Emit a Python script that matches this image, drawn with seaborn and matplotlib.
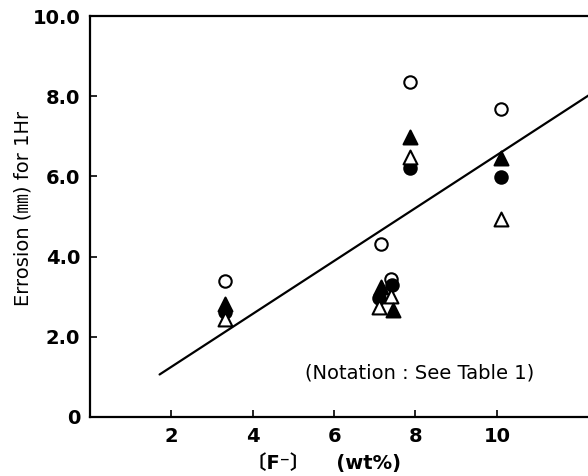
import matplotlib
matplotlib.use("Agg")
import matplotlib.pyplot as plt
import seaborn as sns
import pandas as pd

# values
open_circle_x = [3.33, 7.15, 7.40, 7.87, 10.1]
open_circle_y = [3.38, 4.32, 3.45, 8.36, 7.67]
filled_circle_x = [3.33, 7.10, 7.42, 7.87, 10.1]
filled_circle_y = [2.63, 2.98, 3.28, 6.20, 5.98]
filled_tri_x = [3.33, 7.15, 7.45, 7.87, 10.1]
filled_tri_y = [2.82, 3.25, 2.68, 6.98, 6.47]
open_tri_x = [3.33, 7.10, 7.40, 7.87, 10.1]
open_tri_y = [2.45, 2.75, 3.02, 6.48, 4.93]

fit_x = [1.71, 12.3]
fit_y = [1.06, 8.05]

y_ticks = [0, 2, 4, 6, 8, 10]
y_tick_labels = ["0", "2.0", "4.0", "6.0", "8.0", "10.0"]
x_ticks = [2, 4, 6, 8, 10]
x_tick_labels = ["2", "4", "6", "8", "10"]

sns.set_style("ticks")
plt.rcParams['font.family'] = ['DejaVu Sans', 'Noto Sans CJK JP']
plt.rcParams.update({
    "text.color": "black",
    "axes.labelcolor": "black",
    "axes.edgecolor": "black",
    "xtick.color": "black",
    "ytick.color": "black",
})

fig = plt.figure(figsize=(5.88, 4.76), dpi=100)
ax = fig.add_axes([90 / 588, 59 / 476, 1 - 90 / 588, 401 / 476])

series = [
    (open_circle_x, open_circle_y, "o", "white", 80),
    (filled_circle_x, filled_circle_y, "o", "black", 80),
    (open_tri_x, open_tri_y, "^", "white", 100),
    (filled_tri_x, filled_tri_y, "^", "black", 100),
]
for xs, ys, mk, fc, size in series:
    df = pd.DataFrame({"x": xs, "y": ys})
    sns.scatterplot(data=df, x="x", y="y", marker=mk, s=size, color=fc,
                    edgecolor="black", linewidth=1.5, ax=ax, zorder=3)

fit = pd.DataFrame({"x": fit_x, "y": fit_y})
sns.lineplot(data=fit, x="x", y="y", color="black", linewidth=1.6, ax=ax, zorder=2)

ax.set_xlim(0, 12.24)
ax.set_ylim(0, 10)
ax.set_yticks(y_ticks)
ax.set_yticklabels(y_tick_labels, fontsize=14, fontweight="bold")
ax.set_xticks(x_ticks)
ax.set_xticklabels(x_tick_labels, fontsize=14, fontweight="bold")
ax.tick_params(direction="in", length=5, width=1.2, pad=7)

for side in ["left", "bottom", "top"]:
    ax.spines[side].set_linewidth(1.6)
ax.spines["right"].set_visible(False)

ax.set_ylabel("Errosion (㎜) for 1Hr", fontsize=14)
ax.yaxis.set_label_coords(-0.115, 0.52)
ax.set_xlabel("〔F⁻〕    (wt%)", fontsize=14, fontweight="bold")
ax.xaxis.set_label_coords(0.47, -0.09)

ax.text(8.1, 1.1, "(Notation : See Table 1)", fontsize=14, ha="center", va="center")

fig.savefig("out.png", dpi=100)
